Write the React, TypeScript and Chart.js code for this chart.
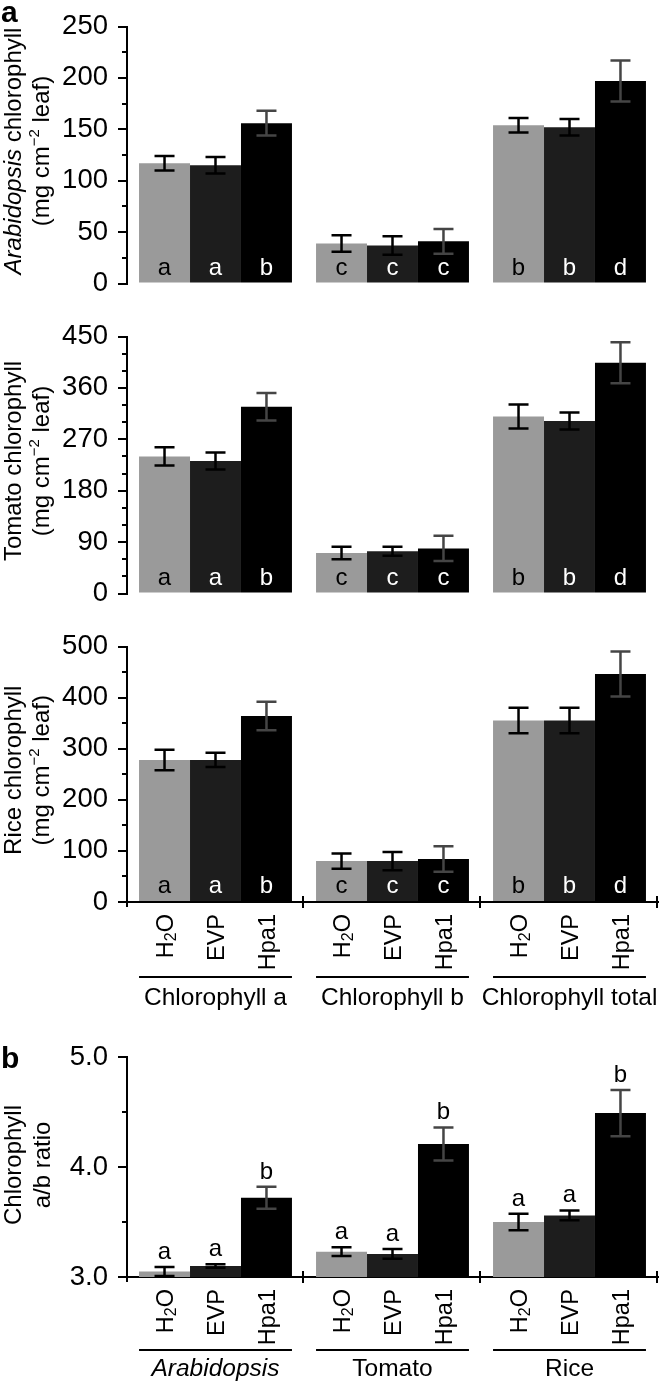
import React, { useEffect, useRef } from "react";
import { Chart, registerables } from "chart.js";

Chart.register(...registerables);

const FONT = '"Liberation Sans", Arial, Helvetica, sans-serif';

// ---------- data ----------
const treatments = ["H₂O", "EVP", "Hpa1"];
const pigmentGroups = ["Chlorophyll a", "Chlorophyll b", "Chlorophyll total"];
const speciesGroups = ["Arabidopsis", "Tomato", "Rice"];

// Arabidopsis chlorophyll (mg cm-2 leaf): [Chl a, Chl b, Chl total]
const arabH2O = [117, 39, 154];
const arabH2OErr = [7, 8, 7];
const arabEVP = [115, 37, 152];
const arabEVPErr = [8, 9, 8];
const arabHpa1 = [156, 41, 197];
const arabHpa1Err = [12, 12, 20];

// Tomato chlorophyll
const tomH2O = [240, 71, 310];
const tomH2OErr = [16, 11, 21];
const tomEVP = [232, 74, 302];
const tomEVPErr = [15, 8, 15];
const tomHpa1 = [327, 79, 404];
const tomHpa1Err = [24, 22, 36];

// Rice chlorophyll
const riceH2O = [278, 80, 355];
const riceH2OErr = [20, 15, 25];
const riceEVP = [278, 80, 355];
const riceEVPErr = [14, 18, 25];
const riceHpa1 = [364, 84, 446];
const riceHpa1Err = [28, 25, 44];

// significance letters (same for the three chlorophyll panels)
const lettersH2O = ["a", "c", "b"];
const lettersEVP = ["a", "c", "b"];
const lettersHpa1 = ["b", "c", "d"];

// Chlorophyll a/b ratio: [Arabidopsis, Tomato, Rice]
const ratioH2O = [3.05, 3.23, 3.5];
const ratioH2OErr = [0.04, 0.04, 0.075];
const ratioEVP = [3.1, 3.21, 3.56];
const ratioEVPErr = [0.015, 0.045, 0.045];
const ratioHpa1 = [3.72, 4.21, 4.49];
const ratioHpa1Err = [0.1, 0.15, 0.21];
const ratioLettersH2O = ["a", "a", "a"];
const ratioLettersEVP = ["a", "a", "a"];
const ratioLettersHpa1 = ["b", "b", "b"];

// axis ticks
const arabTicks = { min: 0, max: 250, step: 50, minor: 25, decimals: 0 };
const tomTicks = { min: 0, max: 450, step: 90, minor: 30, decimals: 0 };
const riceTicks = { min: 0, max: 500, step: 100, minor: 50, decimals: 0 };
const ratioTicks = { min: 3, max: 5, step: 1, minor: 0.5, decimals: 1 };

// ---------- styles ----------
const barColors = ["#9a9a9a", "#1d1d1d", "#000000"];
const errColors = ["#000000", "#000000", "#454545"];
const insideLetterColors = ["#000000", "#ffffff", "#ffffff"];

type Seg = { text: string; italic?: boolean; size?: number; dy?: number };

function richFromLabel(label: string): Seg[] {
  const segs: Seg[] = [];
  let buf = "";
  for (const ch of label) {
    const code = ch.charCodeAt(0);
    if (code >= 0x2080 && code <= 0x2089) {
      if (buf) segs.push({ text: buf });
      buf = "";
      segs.push({ text: String(code - 0x2080), size: 16, dy: 3 });
    } else buf += ch;
  }
  if (buf) segs.push({ text: buf });
  return segs;
}

function drawRich(ctx: CanvasRenderingContext2D, segs: Seg[], baseSize: number, align: "center" | "right" | "left") {
  const fontOf = (s: Seg) => `${s.italic ? "italic " : ""}${s.size ?? baseSize}px ${FONT}`;
  const widths = segs.map((s) => {
    ctx.font = fontOf(s);
    return ctx.measureText(s.text).width;
  });
  const total = widths.reduce((a, b) => a + b, 0);
  let cx = align === "center" ? -total / 2 : align === "right" ? -total : 0;
  ctx.textAlign = "left";
  ctx.textBaseline = "alphabetic";
  segs.forEach((s, i) => {
    ctx.font = fontOf(s);
    ctx.fillText(s.text, cx, s.dy ?? 0);
    cx += widths[i];
  });
}

type PanelCfg = {
  top: number;
  height: number;
  padTop: number;
  padBottom: number;
  xHeight: number | null;
  ticks: { min: number; max: number; step: number; minor: number; decimals: number };
  groups: string[];
  groupItalic: boolean[];
  values: number[][];
  errors: number[][];
  letters: string[][];
  lettersInside: boolean;
  title: Seg[][];
  titleX: number[];
  titleShift: number;
  panelLetter?: { text: string; y: number };
  groupLineY?: number;
  groupTextY?: number;
};

const unitLine: Seg[] = [{ text: "(mg cm" }, { text: "−2", size: 15, dy: -10 }, { text: " leaf)" }];

const panels: PanelCfg[] = [
  {
    top: 0,
    height: 310,
    padTop: 25,
    padBottom: 17,
    xHeight: null,
    ticks: arabTicks,
    groups: pigmentGroups,
    groupItalic: [false, false, false],
    values: [arabH2O, arabEVP, arabHpa1],
    errors: [arabH2OErr, arabEVPErr, arabHpa1Err],
    letters: [lettersH2O, lettersEVP, lettersHpa1],
    lettersInside: true,
    title: [[{ text: "Arabidopsis", italic: true }, { text: " chlorophyll" }], unitLine],
    titleX: [21, 49],
    titleShift: -4,
    panelLetter: { text: "a", y: 22 },
  },
  {
    top: 310,
    height: 310,
    padTop: 20,
    padBottom: 24,
    xHeight: null,
    ticks: tomTicks,
    groups: pigmentGroups,
    groupItalic: [false, false, false],
    values: [tomH2O, tomEVP, tomHpa1],
    errors: [tomH2OErr, tomEVPErr, tomHpa1Err],
    letters: [lettersH2O, lettersEVP, lettersHpa1],
    lettersInside: true,
    title: [[{ text: "Tomato chlorophyll" }], unitLine],
    titleX: [21, 49],
    titleShift: -4,
  },
  {
    top: 620,
    height: 400,
    padTop: 15,
    padBottom: 0,
    xHeight: 118,
    ticks: riceTicks,
    groups: pigmentGroups,
    groupItalic: [false, false, false],
    values: [riceH2O, riceEVP, riceHpa1],
    errors: [riceH2OErr, riceEVPErr, riceHpa1Err],
    letters: [lettersH2O, lettersEVP, lettersHpa1],
    lettersInside: true,
    title: [[{ text: "Rice chlorophyll" }], unitLine],
    titleX: [21, 49],
    titleShift: -4,
    groupLineY: 357,
    groupTextY: 385,
  },
  {
    top: 1020,
    height: 364,
    padTop: 37,
    padBottom: 0,
    xHeight: 107,
    ticks: ratioTicks,
    groups: speciesGroups,
    groupItalic: [true, false, false],
    values: [ratioH2O, ratioEVP, ratioHpa1],
    errors: [ratioH2OErr, ratioEVPErr, ratioHpa1Err],
    letters: [ratioLettersH2O, ratioLettersEVP, ratioLettersHpa1],
    lettersInside: false,
    title: [[{ text: "Chlorophyll" }], [{ text: "a/b ratio" }]],
    titleX: [21, 50],
    titleShift: -2,
    panelLetter: { text: "b", y: 48 },
    groupLineY: 330,
    groupTextY: 356,
  },
];

function makePlugin(cfg: PanelCfg) {
  return {
    id: "panelExtras",
    afterDatasetsDraw(chart: any) {
      const ctx: CanvasRenderingContext2D = chart.ctx;
      const ys = chart.scales.y;
      const area = chart.chartArea;
      const t = cfg.ticks;
      ctx.save();

      // minor ticks on y axis
      ctx.strokeStyle = "#000";
      ctx.lineWidth = 2;
      const nMinor = Math.round((t.max - t.min) / t.minor);
      const ratio = Math.round(t.step / t.minor);
      for (let k = 0; k <= nMinor; k++) {
        if (k % ratio === 0) continue;
        const py = Math.round(ys.getPixelForValue(t.min + k * t.minor));
        ctx.beginPath();
        ctx.moveTo(area.left - 5, py);
        ctx.lineTo(area.left, py);
        ctx.stroke();
      }

      // error bars and letters
      cfg.values.forEach((vals, di) => {
        const meta = chart.getDatasetMeta(di);
        meta.data.forEach((el: any, j: number) => {
          const v = vals[j];
          const e = cfg.errors[di][j];
          const yt = ys.getPixelForValue(v + e);
          const yb = ys.getPixelForValue(v - e);
          ctx.strokeStyle = errColors[di];
          ctx.lineWidth = 2.5;
          ctx.beginPath();
          ctx.moveTo(el.x, yt);
          ctx.lineTo(el.x, yb);
          ctx.moveTo(el.x - 10, yt);
          ctx.lineTo(el.x + 10, yt);
          ctx.moveTo(el.x - 10, yb);
          ctx.lineTo(el.x + 10, yb);
          ctx.stroke();

          ctx.font = `24px ${FONT}`;
          ctx.textAlign = "center";
          ctx.textBaseline = "alphabetic";
          const letter = cfg.letters[di][j];
          if (cfg.lettersInside) {
            ctx.fillStyle = insideLetterColors[di];
            ctx.fillText(letter, el.x, area.bottom - 9);
          } else {
            ctx.fillStyle = "#000";
            ctx.fillText(letter, el.x, yt - 8);
          }
        });
      });

      ctx.fillStyle = "#000";
      ctx.strokeStyle = "#000";

      // x axis decorations (category separators, labels, group lines)
      if (cfg.xHeight !== null) {
        const w = (area.right - area.left) / cfg.groups.length;
        ctx.lineWidth = 2;
        ctx.beginPath();
        ctx.moveTo(area.left, area.bottom);
        ctx.lineTo(area.left, area.bottom + 5);
        for (let k = 1; k <= cfg.groups.length; k++) {
          const px = Math.round(area.left + k * w) - 1;
          ctx.moveTo(px, area.bottom - 6);
          ctx.lineTo(px, area.bottom + 6);
        }
        ctx.stroke();

        // rotated treatment labels
        for (let di = 0; di < treatments.length; di++) {
          const meta = chart.getDatasetMeta(di);
          meta.data.forEach((el: any) => {
            ctx.save();
            ctx.translate(el.x + 8.5, area.bottom + 12);
            ctx.rotate(-Math.PI / 2);
            drawRich(ctx, richFromLabel(treatments[di]), 23.5, "right");
            ctx.restore();
          });
        }

        // group lines and labels
        const first = chart.getDatasetMeta(0).data;
        const last = chart.getDatasetMeta(treatments.length - 1).data;
        cfg.groups.forEach((g, j) => {
          const x0 = first[j].x - first[j].width / 2;
          const x1 = last[j].x + last[j].width / 2;
          ctx.lineWidth = 2;
          ctx.beginPath();
          ctx.moveTo(x0, cfg.groupLineY!);
          ctx.lineTo(x1, cfg.groupLineY!);
          ctx.stroke();
          ctx.save();
          ctx.translate((x0 + x1) / 2, cfg.groupTextY!);
          drawRich(ctx, [{ text: g, italic: cfg.groupItalic[j] }], 24.5, "center");
          ctx.restore();
        });
      }

      // y axis title
      const cy = (area.top + area.bottom) / 2 + cfg.titleShift;
      cfg.title.forEach((line, li) => {
        ctx.save();
        ctx.translate(cfg.titleX[li], cy);
        ctx.rotate(-Math.PI / 2);
        drawRich(ctx, line, 24, "center");
        ctx.restore();
      });

      // panel letter
      if (cfg.panelLetter) {
        ctx.font = `bold 30px ${FONT}`;
        ctx.textAlign = "left";
        ctx.textBaseline = "alphabetic";
        ctx.fillText(cfg.panelLetter.text, 1, cfg.panelLetter.y);
      }
      ctx.restore();
    },
  };
}

function buildConfig(cfg: PanelCfg): any {
  const t = cfg.ticks;
  return {
    type: "bar",
    data: {
      labels: cfg.groups,
      datasets: treatments.map((name, i) => ({
        label: name,
        data: cfg.values[i],
        backgroundColor: barColors[i],
        borderWidth: 0,
        categoryPercentage: 0.864,
        barPercentage: 1,
      })),
    },
    options: {
      animation: false,
      responsive: false,
      devicePixelRatio: 1,
      layout: { padding: { top: cfg.padTop, bottom: cfg.padBottom, left: 0, right: 3 } },
      plugins: { legend: { display: false }, tooltip: { enabled: false } },
      scales: {
        x: {
          display: cfg.xHeight !== null,
          grid: { display: false },
          ticks: { display: false },
          border: { display: true, color: "#000", width: 2 },
          afterFit: (s: any) => {
            if (cfg.xHeight !== null) s.height = cfg.xHeight;
          },
        },
        y: {
          min: t.min,
          max: t.max,
          afterFit: (s: any) => {
            s.width = 127;
          },
          ticks: {
            stepSize: t.step,
            color: "#000",
            padding: 10,
            font: { family: FONT, size: 27.5 },
            callback: (v: any) => Number(v).toFixed(t.decimals),
          },
          grid: { drawOnChartArea: false, drawTicks: true, tickLength: 9, color: "#000", lineWidth: 2 },
          border: { display: true, color: "#000", width: 2 },
        },
      },
    },
    plugins: [makePlugin(cfg)],
  };
}

function Panel({ cfg }: { cfg: PanelCfg }) {
  const ref = useRef<HTMLCanvasElement>(null);
  useEffect(() => {
    const chart = new Chart(ref.current as HTMLCanvasElement, buildConfig(cfg));
    return () => chart.destroy();
  }, [cfg]);
  return (
    <canvas
      ref={ref}
      width={661}
      height={cfg.height}
      style={{ position: "absolute", left: 0, top: cfg.top, width: 661, height: cfg.height }}
    />
  );
}

export default function App() {
  return (
    <div
      style={{
        position: "absolute",
        left: 0,
        top: 0,
        width: 661,
        height: 1384,
        background: "#fff",
        overflow: "hidden",
      }}
    >
      {panels.map((p, i) => (
        <Panel key={i} cfg={p} />
      ))}
    </div>
  );
}
